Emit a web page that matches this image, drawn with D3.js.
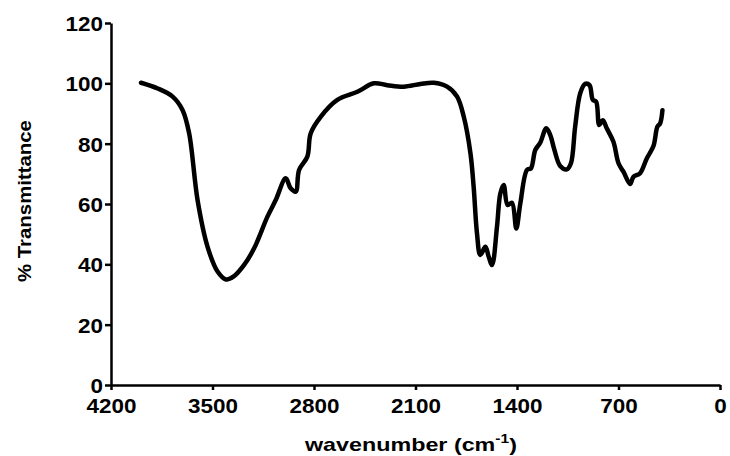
<!DOCTYPE html>
<html>
<head>
<meta charset="utf-8">
<script src="https://cdn.jsdelivr.net/npm/d3@7"></script>
<style>
  body { margin: 0; background: #fff; }
  .axis path, .axis line { stroke: #000; stroke-width: 2.5px; }
</style>
</head>
<body>
<svg id="chart" width="730" height="456"></svg>
<script>
// IR spectrum
const wavenumber = [3993, 3878, 3775, 3706, 3661, 3603, 3534, 3465, 3408, 3351, 3282, 3213, 3121, 3064, 2995, 2961, 2926, 2903, 2846, 2823, 2754, 2639, 2501, 2387, 2295, 2181, 2066, 1974, 1882, 1813, 1767, 1721, 1699, 1676, 1653, 1618, 1595, 1572, 1538, 1515, 1492, 1465, 1435, 1405, 1377, 1331, 1304, 1274, 1240, 1198, 1171, 1143, 1102, 1056, 1028, 999, 964, 930, 900, 877, 854, 833, 808, 781, 735, 700, 666, 620, 597, 551, 505, 459, 432, 413, 397];
const transmittance = [100.2, 98.3, 95.6, 91.1, 83.4, 61.3, 45.8, 37.6, 35.0, 36.1, 39.8, 45.3, 55.8, 61.3, 68.5, 65.2, 64.1, 71.3, 75.7, 83.4, 88.9, 94.5, 97.2, 100.0, 99.4, 98.9, 99.8, 100.2, 98.9, 95.6, 88.9, 76.8, 65.7, 50.3, 43.1, 45.8, 42.5, 39.8, 52.5, 63.5, 66.3, 59.7, 60.4, 51.9, 60.2, 71.3, 71.8, 77.9, 80.3, 85.1, 82.9, 78.1, 72.6, 71.5, 73.5, 85.6, 96.7, 99.8, 99.4, 94.5, 93.9, 86.2, 87.8, 85.1, 80.6, 73.5, 70.7, 66.6, 69.0, 70.2, 75.1, 79.2, 85.6, 86.7, 91.1];
const xTicks = [4200, 3500, 2800, 2100, 1400, 700, 0];
const yTicks = [0, 20, 40, 60, 80, 100, 120];

const FONT = "'Liberation Sans', Arial, sans-serif";

const svg = d3.select("#chart");
const margin = { top: 23, right: 10, bottom: 71, left: 111 };
const width = 730 - margin.left - margin.right;
const height = 456 - margin.top - margin.bottom;

const g = svg.append("g").attr("transform", `translate(${margin.left},${margin.top})`);

const x = d3.scaleLinear().domain([4200, 0]).range([0, width]);
const y = d3.scaleLinear().domain([0, 120]).range([height, 0]);

const xAxis = g.append("g")
  .attr("class", "axis")
  .attr("transform", `translate(0,${height})`)
  .call(d3.axisBottom(x).tickValues(xTicks).tickFormat(d3.format("d"))
    .tickSize(5).tickSizeOuter(0).tickPadding(8));

const yAxis = g.append("g")
  .attr("class", "axis")
  .call(d3.axisLeft(y).tickValues(yTicks).tickFormat(d3.format("d"))
    .tickSize(6).tickSizeOuter(0).tickPadding(2));

[xAxis, yAxis].forEach((a) =>
  a.selectAll("text")
    .style("font-family", FONT)
    .style("font-weight", "bold")
    .style("font-size", "21px")
    .style("fill", "#000")
    .attr("transform", "scale(1.07,1)")
);
// scale around each label's own anchor
xAxis.selectAll(".tick text").attr("transform", null)
  .each(function () { d3.select(this).attr("textLength", null); })
  .attr("transform", "scale(1.07,1)");
yAxis.selectAll("text").attr("dy", "0.36em").attr("x", -8 / 1.07);

const pts = wavenumber.map((w, i) => ({ w, t: transmittance[i] }));

const line = d3.line()
  .x((d) => x(d.w))
  .y((d) => y(d.t))
  .curve(d3.curveCatmullRom);

g.append("path")
  .datum(pts)
  .attr("fill", "none")
  .attr("stroke", "#000")
  .attr("stroke-width", 4.5)
  .attr("stroke-linejoin", "round")
  .attr("stroke-linecap", "round")
  .attr("d", line);

// stretch a title horizontally so it spans the given width
function fitWidth(text, target) {
  const w = text.node().getComputedTextLength();
  return target / w;
}

// axis titles
const yl = svg.append("text")
  .attr("text-anchor", "start")
  .style("font-family", FONT)
  .style("font-weight", "bold")
  .style("font-size", "18px")
  .text("% Transmittance");
const ky = fitWidth(yl, 162);
yl.attr("transform", `translate(31,282) rotate(-90) scale(${ky},1)`);

const xl = svg.append("text")
  .attr("text-anchor", "start")
  .style("font-family", FONT)
  .style("font-weight", "bold")
  .style("font-size", "18px");
xl.append("tspan").text("wavenumber (cm");
xl.append("tspan").attr("dy", -8).style("font-size", "12px").text("-1");
xl.append("tspan").attr("dy", 8).text(")");
const kx = fitWidth(xl, 212);
xl.attr("transform", `translate(305,451) scale(${kx},1)`);
</script>
</body>
</html>
